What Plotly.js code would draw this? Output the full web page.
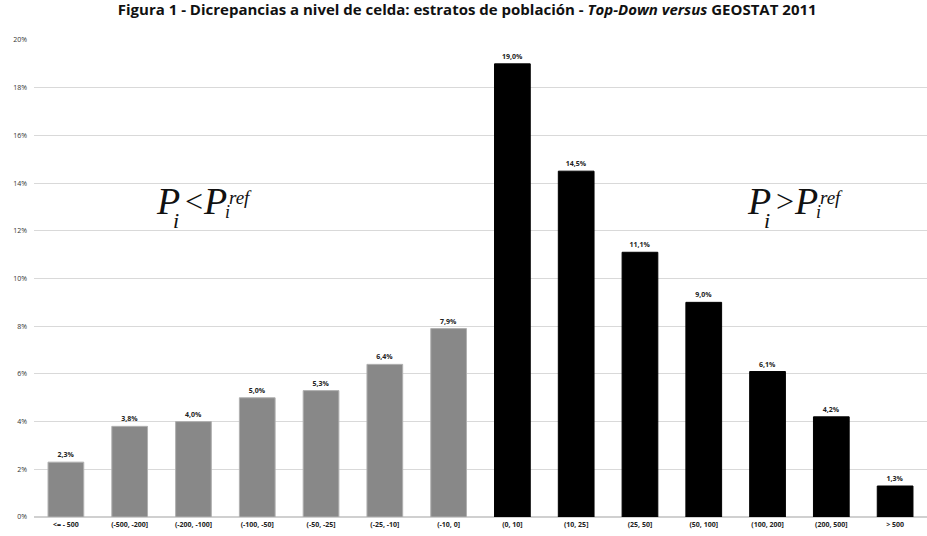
<!DOCTYPE html>
<html><head><meta charset="utf-8">
<script src="https://cdn.plot.ly/plotly-3.0.1.min.js"></script>
<style>html,body{margin:0;padding:0;background:#fff}#c{width:927px;height:536px}</style>
</head><body><div id="c"></div>
<script>
const categories = ["<= - 500","(-500, -200]","(-200, -100]","(-100, -50]","(-50, -25]","(-25, -10]","(-10, 0]","(0, 10]","(10, 25]","(25, 50]","(50, 100]","(100, 200]","(200, 500]","> 500"];
const values = [2.3, 3.8, 4.0, 5.0, 5.3, 6.4, 7.9, 19.0, 14.5, 11.1, 9.0, 6.1, 4.2, 1.3];
const colors = values.map((v,i)=> i<7 ? "#888888" : "#000000");
const lineColors = values.map((v,i)=> i<7 ? "#b0b0b0" : "#000000");

const trace = {
  type: "bar", x: categories, y: values,
  marker: {color: colors, line: {color: lineColors, width: 1}},
  texttemplate: "%{y:.1f}%", textposition: "outside", cliponaxis: false,
  textfont: {family: "Open Sans", size: 7, color: "#222", weight: "bold"},
  hoverinfo: "skip"
};
const serif = "Liberation Serif";
function piece(xc, y, text, size, shift){
  return {x: xc, y: y, xref:"x", yref:"y", xanchor:"left", yanchor:"middle", showarrow:false,
          borderpad: 0, text: text, font:{family:serif, size:size, color:"#111"}, xshift: shift};
}
function formula(xc, sym){
  return [
    piece(xc, 13.23, "<i>P</i>", 38, -40),
    piece(xc, 12.45, "<i>i</i>", 22, -23),
    piece(xc, 13.25, sym, 32, -11),
    piece(xc, 13.23, "<i>P</i>", 38, 7),
    piece(xc, 13.38, "<i>ref</i>", 19, 33),
    piece(xc, 12.8, "<i>i</i>", 18, 29)
  ];
}
const annotations = [].concat(formula(2.02, "&lt;"), formula(11.29, "&gt;"));

const layout = {
  width: 927, height: 536,
  margin: {l: 34, r: 0, t: 40, b: 19},
  paper_bgcolor: "#fff", plot_bgcolor: "#fff",
  separators: ",.",
  title: {text: "Figura 1 - Dicrepancias a nivel de celda: estratos de población - <i>Top-Down versus</i> GEOSTAT 2011",
          font: {family: "Open Sans", size: 15, color: "#111", weight: "bold"}, x: 0.504, xanchor: "center", y: 0.992, yanchor: "top"},
  bargap: 0.44,
  showlegend: false,
  xaxis: {type: "category", tickfont: {family: "Open Sans", size: 7, color: "#222", weight: "bold"},
          showgrid: false, showline: false, ticks: "", zeroline: false, ticklabelstandoff: 2},
  yaxis: {range: [0, 20], dtick: 2, ticksuffix: "%", showgrid: true, gridcolor: "#d9d9d9", gridwidth: 1.2,
          zeroline: true, zerolinecolor: "#d0d0d0", zerolinewidth: 1.2,
          tickfont: {family: "Open Sans", size: 7, color: "#333"}, ticks: "", ticklabelstandoff: 6},
  annotations: annotations
};
Plotly.newPlot("c", [trace], layout, {displayModeBar: false, staticPlot: true});
</script></body></html>
